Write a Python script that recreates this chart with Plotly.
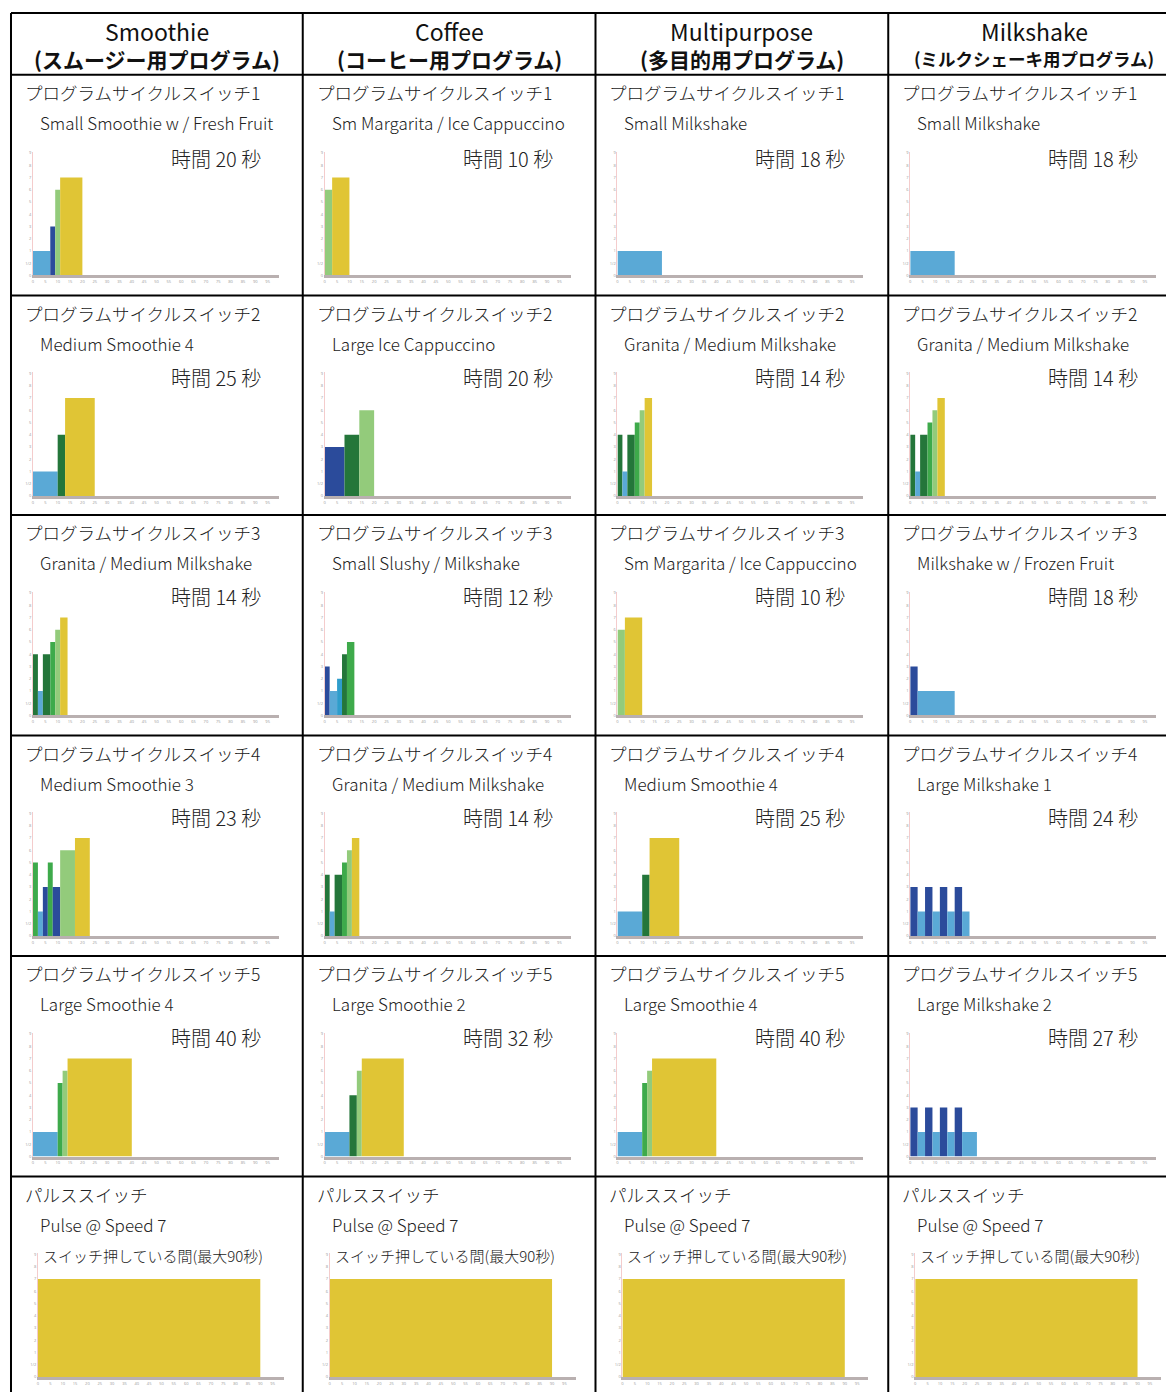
import numpy as np
import plotly.graph_objects as go

# page body has an 8px margin, so the figure is shifted by that much
OFF = 8
W, H = 1174 - OFF, 1394 - OFF

# speed setting -> bar colour
SPEED_COLORS = {1: "#5aa9d6", 2: "#2f9dcb", 3: "#2b4b9b", 4: "#24763a",
                5: "#3eaa4b", 6: "#93cb7b", 7: "#e0c535"}
Y_TICK_TEXT = ["0", "1/2", "1", "2", "3", "4", "5", "6", "7", "8", "9"]
X_TICKS = list(range(0, 100, 5))

COLUMN_NAMES = ["Smoothie", "Coffee", "Multipurpose", "Milkshake"]
COLUMN_SUBTITLES = ["(スムージー用プログラム)", "(コーヒー用プログラム)",
                    "(多目的用プログラム)", "(ミルクシェーキ用プログラム)"]
COLUMN_SUB_SIZES = [21, 21, 21, 17.5]

# each program: seconds of every step and the speed of that step
small_smoothie_fruit_sec = [7, 2, 2, 9]
small_smoothie_fruit_speed = [1, 3, 6, 7]
medium_smoothie4_sec = [10, 3, 12]
medium_smoothie4_speed = [1, 4, 7]
granita_sec = [2, 2, 3, 2, 2, 3]
granita_speed = [4, 1, 4, 5, 6, 7]
medium_smoothie3_sec = [2, 2, 2, 2, 3, 6, 6]
medium_smoothie3_speed = [5, 1, 3, 5, 3, 6, 7]
large_smoothie4_sec = [10, 2, 2, 26]
large_smoothie4_speed = [1, 5, 6, 7]
margarita_sec = [3, 7]
margarita_speed = [6, 7]
large_ice_cap_sec = [8, 6, 6]
large_ice_cap_speed = [3, 4, 6]
small_slushy_sec = [2, 3, 2, 2, 3]
small_slushy_speed = [3, 1, 2, 4, 5]
large_smoothie2_sec = [10, 3, 2, 17]
large_smoothie2_speed = [1, 4, 6, 7]
small_milkshake_sec = [18]
small_milkshake_speed = [1]
frozen_fruit_sec = [3, 15]
frozen_fruit_speed = [3, 1]
large_milkshake1_sec = [3, 3, 3, 3, 3, 3, 3, 3]
large_milkshake1_speed = [3, 1, 3, 1, 3, 1, 3, 1]
large_milkshake2_sec = [3, 3, 3, 3, 3, 3, 3, 6]
large_milkshake2_speed = [3, 1, 3, 1, 3, 1, 3, 1]
pulse_sec = [90]
pulse_speed = [7]

PROGRAMS = {
    "Small Smoothie w / Fresh Fruit": (small_smoothie_fruit_sec, small_smoothie_fruit_speed),
    "Medium Smoothie 4": (medium_smoothie4_sec, medium_smoothie4_speed),
    "Granita / Medium Milkshake": (granita_sec, granita_speed),
    "Medium Smoothie 3": (medium_smoothie3_sec, medium_smoothie3_speed),
    "Large Smoothie 4": (large_smoothie4_sec, large_smoothie4_speed),
    "Sm Margarita / Ice Cappuccino": (margarita_sec, margarita_speed),
    "Large Ice Cappuccino": (large_ice_cap_sec, large_ice_cap_speed),
    "Small Slushy / Milkshake": (small_slushy_sec, small_slushy_speed),
    "Large Smoothie 2": (large_smoothie2_sec, large_smoothie2_speed),
    "Small Milkshake": (small_milkshake_sec, small_milkshake_speed),
    "Milkshake w / Frozen Fruit": (frozen_fruit_sec, frozen_fruit_speed),
    "Large Milkshake 1": (large_milkshake1_sec, large_milkshake1_speed),
    "Large Milkshake 2": (large_milkshake2_sec, large_milkshake2_speed),
    "Pulse @ Speed 7": (pulse_sec, pulse_speed),
}

GRID = [
    ["Small Smoothie w / Fresh Fruit", "Sm Margarita / Ice Cappuccino", "Small Milkshake", "Small Milkshake"],
    ["Medium Smoothie 4", "Large Ice Cappuccino", "Granita / Medium Milkshake", "Granita / Medium Milkshake"],
    ["Granita / Medium Milkshake", "Small Slushy / Milkshake", "Sm Margarita / Ice Cappuccino", "Milkshake w / Frozen Fruit"],
    ["Medium Smoothie 3", "Granita / Medium Milkshake", "Medium Smoothie 4", "Large Milkshake 1"],
    ["Large Smoothie 4", "Large Smoothie 2", "Large Smoothie 4", "Large Milkshake 2"],
    ["Pulse @ Speed 7"] * 4,
]

# table geometry (pixels)
COL_X = [10, 302, 595, 888, 1174]
ROW_Y = [12, 74, 295, 515, 736, 957, 1178, 1394]

JP = "Noto Sans CJK JP"


def px(x):
    return (x - OFF) / W


def py(y):
    return 1 - (y - OFF) / H


def level(s):
    # y axis is 0, 1/2, 1, 2 ... 9 evenly spaced
    return 2 * s if s < 1 else s + 1


fig = go.Figure()
annotations = []
shapes = []
layout_axes = {}

n = 0
for r, row in enumerate(GRID):
    top = ROW_Y[r + 1]
    for c, name in enumerate(row):
        n += 1
        L = COL_X[c]
        secs, speeds = PROGRAMS[name]
        starts = np.concatenate([[0], np.cumsum(secs)[:-1]])
        xa = "x" if n == 1 else f"x{n}"
        ya = "y" if n == 1 else f"y{n}"
        fig.add_trace(go.Bar(
            x=starts, y=[level(s) for s in speeds], width=secs, offset=0,
            marker=dict(color=[SPEED_COLORS[s] for s in speeds], line=dict(width=0)),
            xaxis=xa, yaxis=ya, showlegend=False, hoverinfo="skip"))

        x0 = L + (27 if r == 5 else 22)
        x1 = x0 + 246
        y_top = top + 77
        y_bot = top + 201
        layout_axes["xaxis" if n == 1 else f"xaxis{n}"] = dict(
            domain=[px(x0), px(x1)], anchor=ya, range=[0, 99.5],
            tickvals=X_TICKS, tickfont=dict(size=4, color="#999999"),
            showline=True, linecolor="#b9b0b0", linewidth=3,
            showgrid=False, zeroline=False, ticks="", fixedrange=True)
        layout_axes["yaxis" if n == 1 else f"yaxis{n}"] = dict(
            domain=[py(y_bot), py(y_top)], anchor=xa, range=[0, 10.1],
            tickvals=list(range(11)), ticktext=Y_TICK_TEXT,
            tickfont=dict(size=4, color="#999999"),
            showline=True, linecolor="#f4cccc", linewidth=1,
            showgrid=False, zeroline=False, ticks="", fixedrange=True)

        if r < 5:
            line1 = f"プログラムサイクルスイッチ{r + 1}"
        else:
            line1 = "パルススイッチ"
        annotations.append(dict(x=px(L + 12), y=py(top + 18), text=line1,
                                font=dict(family=JP, size=17.5, color="#222222", weight=300)))
        annotations.append(dict(x=px(L + 27), y=py(top + 48), text=name,
                                font=dict(family=JP, size=17, color="#222222", weight=300)))
        if r < 5:
            annotations.append(dict(x=px(L + 158), y=py(top + (84 if r == 0 else 82)),
                                    text=f"時間 {sum(secs)} 秒",
                                    font=dict(family=JP, size=20, color="#222222", weight=300)))
        else:
            annotations.append(dict(x=px(L + 30), y=py(top + 79),
                                    text="スイッチ押している間(最大90秒)",
                                    font=dict(family=JP, size=15, color="#222222", weight=300)))

# column headers
for c in range(4):
    cx = (COL_X[c] + COL_X[c + 1]) / 2 + (3 if c == 3 else 0)
    annotations.append(dict(x=px(cx), y=py(30), text=COLUMN_NAMES[c], xanchor="center",
                            font=dict(family=JP, size=23, color="#111111")))
    annotations.append(dict(x=px(cx), y=py(58), text=f"<b>{COLUMN_SUBTITLES[c]}</b>",
                            xanchor="center",
                            font=dict(family=JP, size=COLUMN_SUB_SIZES[c], color="#111111")))

for a in annotations:
    a.setdefault("xanchor", "left")
    a.update(xref="paper", yref="paper", yanchor="middle", showarrow=False)

# table borders
for x in COL_X[:-1]:
    shapes.append(dict(type="line", xref="paper", yref="paper",
                       x0=px(x), x1=px(x), y0=py(ROW_Y[0]), y1=0,
                       line=dict(color="black", width=2)))
for y in ROW_Y[:-1]:
    shapes.append(dict(type="line", xref="paper", yref="paper",
                       x0=px(COL_X[0]), x1=1, y0=py(y), y1=py(y),
                       line=dict(color="black", width=2)))

fig.update_layout(
    width=W, height=H, margin=dict(l=0, r=0, t=0, b=0),
    paper_bgcolor="white", plot_bgcolor="white",
    annotations=annotations, shapes=shapes, **layout_axes)

fig.write_html("out.html")
